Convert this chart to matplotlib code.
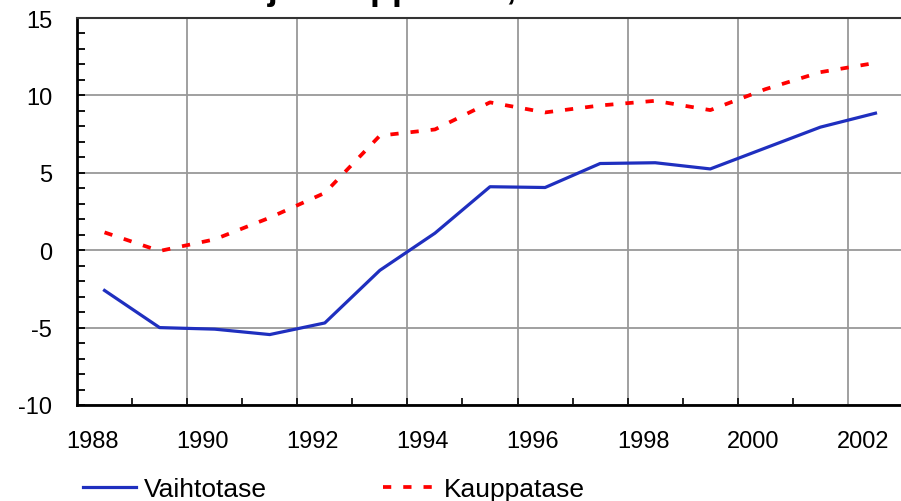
import matplotlib
matplotlib.use('Agg')
import matplotlib.pyplot as plt

plt.rcParams['font.family'] = ['Liberation Sans', 'DejaVu Sans']
plt.rcParams['axes.unicode_minus'] = False

# Vaihtotase ja kauppatase, % BKT:sta, 1988-2002
vuodet = list(range(1988, 2003))
vaihtotase = [-2.6, -5.0, -5.1, -5.45, -4.7, -1.3, 1.1, 4.1, 4.05, 5.6, 5.65, 5.25, 6.6, 7.95, 8.85]
kauppatase = [1.15, -0.05, 0.7, 2.1, 3.7, 7.4, 7.8, 9.55, 8.9, 9.35, 9.65, 9.05, 10.4, 11.5, 12.1]
vuosi_tekstit = ['1988', '1990', '1992', '1994', '1996', '1998', '2000', '2002']

W, H = 901, 502
fig = plt.figure(figsize=(W / 100, H / 100), dpi=100)
ax = fig.add_axes([77 / W, 96 / H, 826 / W, 387 / H])

x = list(range(len(vuodet)))
ax.plot(x, vaihtotase, color='#1f2fbf', lw=2.3, label='Vaihtotase', zorder=3)
ax.plot(x, kauppatase, color='#ff0000', lw=2.7, linestyle=(0, (2.2, 3.2)),
        label='Kauppatase', zorder=3)

ax.set_xlim(-0.5, 14.5)
ax.set_ylim(-10, 15)

# y-akseli
ax.set_yticks(range(-10, 16, 5))
ax.set_yticks(range(-10, 16, 1), minor=True)
ax.tick_params(axis='y', which='both', direction='in', length=6, width=1.3,
               labelsize=17, pad=18, colors='black')
ax.yaxis.grid(True, which='major', color='#999999', lw=1.3)

# x-akseli: vuosiluvut parillisille vuosille, väkäset luokkien välissä
ax.set_xticks([2 * i - 0.22 for i in range(len(vuosi_tekstit))])
ax.set_xticklabels(vuosi_tekstit)
ax.set_xticks([i + 0.5 for i in range(13)], minor=True)
ax.tick_params(axis='x', which='major', length=0, labelsize=17, pad=18)
ax.tick_params(axis='x', which='minor', direction='in', length=5, width=1.2)
for i in range(1, 14, 2):
    ax.axvline(i + 0.5, color='#999999', lw=1.3, zorder=1)

for side in ['left', 'bottom']:
    ax.spines[side].set_linewidth(2)
    ax.spines[side].set_color('black')
ax.spines['top'].set_color('#333333')
ax.spines['top'].set_linewidth(1.5)
ax.spines['right'].set_visible(False)

fig.text(77 / W, 1 + 1 / H, 'Vaihtotase ja kauppatase, % BKT:sta',
         fontsize=26, fontweight='bold', ha='left', va='baseline')

fig.legend(loc='center left', bbox_to_anchor=(83 / W, 12 / H), ncol=2,
           frameon=False, fontsize=19, borderpad=0, handlelength=2.0,
           handletextpad=0.3, columnspacing=4.4, borderaxespad=0)

fig.savefig('out.png', dpi=100)
